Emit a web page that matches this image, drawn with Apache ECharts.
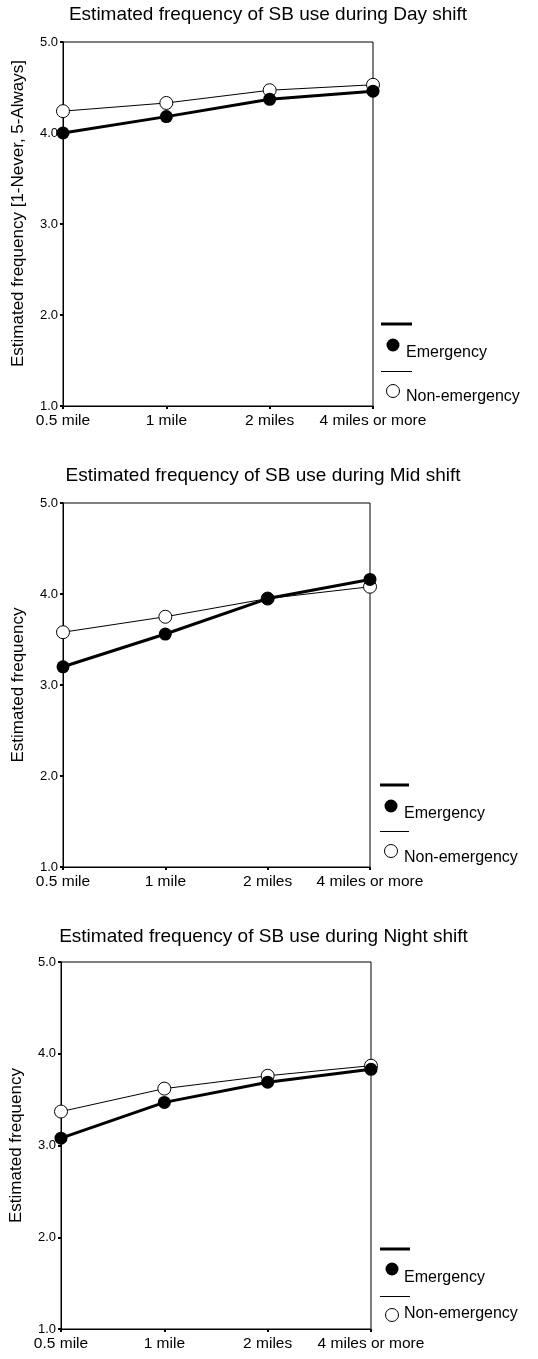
<!DOCTYPE html>
<html>
<head>
<meta charset="utf-8">
<script src="https://cdn.jsdelivr.net/npm/echarts@6/dist/echarts.min.js"></script>
<style>
html,body{margin:0;padding:0;background:#fff;}
#chart{width:538px;height:1359px;}
</style>
</head>
<body>
<div id="chart"></div>
<script>
const categories = ['0.5 mile', '1 mile', '2 miles', '4 miles or more'];
const dayEmergency = [4.00, 4.18, 4.37, 4.46];
const dayNonEmergency = [4.24, 4.33, 4.47, 4.53];
const midEmergency = [3.20, 3.56, 3.95, 4.16];
const midNonEmergency = [3.58, 3.75, 3.95, 4.08];
const nightEmergency = [3.08, 3.47, 3.69, 3.83];
const nightNonEmergency = [3.37, 3.62, 3.76, 3.87];
const panelTitles = [
  'Estimated frequency of SB use during Day shift',
  'Estimated frequency of SB use during Mid shift',
  'Estimated frequency of SB use during Night shift'
];
const yAxisNames = ['Estimated frequency [1-Never, 5-Always]', 'Estimated frequency', 'Estimated frequency'];
const seriesNames = ['Emergency', 'Non-emergency'];
const yMin = 1, yMax = 5, yStep = 1;

const FONT = '"Liberation Sans", Arial, Helvetica, sans-serif';
const panels = [
  {emer: dayEmergency, non: dayNonEmergency},
  {emer: midEmergency, non: midNonEmergency},
  {emer: nightEmergency, non: nightNonEmergency}
];
// layout (pixels)
const grids = [
  {left: 63, top: 42, width: 310, height: 364},
  {left: 63, top: 503, width: 307, height: 364},
  {left: 61, top: 962, width: 310, height: 367}
];
const namePadding = [[0, 0, 0, 21], [0, 0, 0, 0], [0, 0, 0, 0]];
const titlePos = [[268, 14.5], [263, 476], [263.5, 936.5]];
const legendPos = [
  {x1: 381, x2: 412, ly1: 324, dot: [393, 345], t1: 353, ly2: 371.5, circ: [393, 391], t2: 397, tx: 406},
  {x1: 380, x2: 409, ly1: 785, dot: [391, 806], t1: 813.5, ly2: 831.5, circ: [391, 851], t2: 858, tx: 404},
  {x1: 380, x2: 410, ly1: 1249, dot: [392, 1269], t1: 1278, ly2: 1296.5, circ: [392, 1315], t2: 1313.5, tx: 404}
];

const gridOpts = [], xAxes = [], yAxes = [], series = [], graphics = [];
panels.forEach((p, i) => {
  gridOpts.push(Object.assign({show: true, borderColor: '#000', borderWidth: 1, backgroundColor: 'transparent', containLabel: false}, grids[i]));
  xAxes.push({
    type: 'category', gridIndex: i, data: categories, boundaryGap: false,
    axisLine: {lineStyle: {color: '#000', width: 1}},
    axisTick: {show: true, length: 3, interval: 0, lineStyle: {color: '#000', width: 2}},
    axisLabel: {color: '#000', fontFamily: FONT, fontSize: 15.5, margin: 7, interval: 0},
    splitLine: {show: false}
  });
  yAxes.push({
    type: 'value', gridIndex: i, min: yMin, max: yMax, interval: yStep,
    name: yAxisNames[i], nameLocation: 'middle', nameGap: 36, nameRotate: 90,
    nameTextStyle: {color: '#000', fontFamily: FONT, fontSize: 17, padding: namePadding[i]},
    axisLine: {show: true, lineStyle: {color: '#000', width: 1}},
    axisTick: {show: true, length: 3, lineStyle: {color: '#000', width: 2}},
    axisLabel: {color: '#000', fontFamily: FONT, fontSize: 13, margin: 5, formatter: v => v.toFixed(1)},
    splitLine: {show: false}
  });
  series.push({
    name: seriesNames[1], type: 'line', xAxisIndex: i, yAxisIndex: i, data: p.non,
    symbol: 'circle', symbolSize: 13, z: 2,
    lineStyle: {color: '#000', width: 1},
    itemStyle: {color: '#fff', borderColor: '#000', borderWidth: 1}
  });
  series.push({
    name: seriesNames[0], type: 'line', xAxisIndex: i, yAxisIndex: i, data: p.emer,
    symbol: 'circle', symbolSize: 13, z: 3,
    lineStyle: {color: '#000', width: 3},
    itemStyle: {color: '#000', borderColor: '#000', borderWidth: 0}
  });
  graphics.push({
    type: 'text', x: titlePos[i][0], y: titlePos[i][1],
    style: {text: panelTitles[i], fill: '#000', font: '19px ' + FONT, textAlign: 'center', textVerticalAlign: 'middle'}
  });
  const L = legendPos[i];
  graphics.push(
    {type: 'line', shape: {x1: L.x1, y1: L.ly1, x2: L.x2, y2: L.ly1}, style: {stroke: '#000', lineWidth: 3}},
    {type: 'circle', shape: {cx: L.dot[0], cy: L.dot[1], r: 6.5}, style: {fill: '#000'}},
    {type: 'text', x: L.tx, y: L.t1, style: {text: seriesNames[0], fill: '#000', font: '16px ' + FONT, textVerticalAlign: 'middle'}},
    {type: 'line', shape: {x1: L.x1, y1: L.ly2, x2: L.x2, y2: L.ly2}, style: {stroke: '#000', lineWidth: 1}},
    {type: 'circle', shape: {cx: L.circ[0], cy: L.circ[1], r: 6.5}, style: {fill: '#fff', stroke: '#000', lineWidth: 1}},
    {type: 'text', x: L.tx, y: L.t2, style: {text: seriesNames[1], fill: '#000', font: '16px ' + FONT, textVerticalAlign: 'middle'}}
  );
});

const chart = echarts.init(document.getElementById('chart'), null, {renderer: 'canvas'});
chart.setOption({
  animation: false,
  backgroundColor: '#fff',
  grid: gridOpts,
  xAxis: xAxes,
  yAxis: yAxes,
  series: series,
  graphic: graphics
});
</script>
</body>
</html>
